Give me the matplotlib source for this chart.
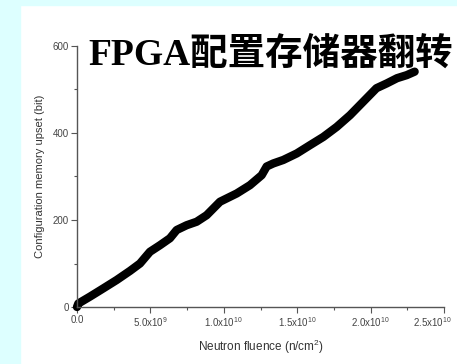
import matplotlib
matplotlib.use("Agg")
import matplotlib.pyplot as plt
from matplotlib.patches import Rectangle
from matplotlib.ticker import FixedLocator, MultipleLocator
from matplotlib.transforms import ScaledTranslation

# neutron fluence (n/cm^2) and cumulative configuration memory upsets (bit)
fluence = [0.0, 0.009e10, 0.089e10, 0.18e10, 0.27e10, 0.361e10, 0.429e10, 0.497e10,
           0.565e10, 0.633e10, 0.679e10, 0.747e10, 0.815e10, 0.883e10, 0.974e10,
           1.088e10, 1.178e10, 1.258e10, 1.292e10, 1.337e10, 1.405e10, 1.497e10,
           1.587e10, 1.678e10, 1.769e10, 1.86e10, 1.95e10, 2.04e10, 2.11e10,
           2.18e10, 2.246e10, 2.30e10]
upsets = [0, 8, 24, 43, 62, 83, 100, 127, 142, 158, 177, 188, 196, 211, 242,
          261, 280, 303, 323, 330, 338, 353, 372, 391, 414, 441, 472, 503, 514,
          526, 533, 541]

x_ticks = [0, 0.5e10, 1.0e10, 1.5e10, 2.0e10, 2.5e10]
x_labels = ['0.0', r'5.0x10$^{9}$', r'1.0x10$^{10}$', r'1.5x10$^{10}$',
            r'2.0x10$^{10}$', r'2.5x10$^{10}$']
y_ticks = [0, 200, 400, 600]

title = 'FPGA配置存储器翻转'

plt.rcParams['font.family'] = ['Liberation Sans', 'DejaVu Sans']
plt.rcParams['mathtext.fontset'] = 'custom'
plt.rcParams['mathtext.rm'] = 'Liberation Sans'
plt.rcParams['mathtext.it'] = 'Liberation Sans'

fig = plt.figure(figsize=(4.57, 3.64), dpi=100, facecolor='white')

# pale cyan frame on the left and top
cyan = '#ddffff'
fig.patches.append(Rectangle((0, 0), 20 / 457, 1, transform=fig.transFigure,
                             color=cyan, zorder=0))
fig.patches.append(Rectangle((0, 1 - 5 / 364), 1, 5 / 364, transform=fig.transFigure,
                             color=cyan, zorder=0))

ax = fig.add_axes([77 / 457, 1 - 307 / 364, 367 / 457, 261 / 364])
ax.set_facecolor('none')
ax.plot(fluence, upsets, color='black', lw=6, solid_capstyle='round',
        solid_joinstyle='round', clip_on=False)

ax.set_xlim(0, 2.5e10)
ax.set_ylim(0, 600)
ax.xaxis.set_major_locator(FixedLocator(x_ticks))
ax.set_xticklabels(x_labels)
ax.xaxis.set_minor_locator(MultipleLocator(0.25e10))
ax.yaxis.set_major_locator(FixedLocator(y_ticks))
ax.yaxis.set_minor_locator(MultipleLocator(100))

axis_grey = '#555555'
for side in ['top', 'right']:
    ax.spines[side].set_visible(False)
for side in ['left', 'bottom']:
    ax.spines[side].set_color(axis_grey)
    ax.spines[side].set_linewidth(1.0)

ax.tick_params(which='major', direction='out', length=4, width=0.8,
               color=axis_grey, labelcolor='#444444', labelsize=7, pad=2)
ax.tick_params(which='minor', direction='out', length=2.5, width=0.8, color=axis_grey)

# keep the last x label inside the figure
last = ax.get_xticklabels()[-1]
last.set_transform(last.get_transform() + ScaledTranslation(-12 / 100, 0, fig.dpi_scale_trans))

ax.set_xlabel('Neutron fluence (n/cm$^2$)', fontsize=8.5, color='#333333', labelpad=6)
ax.set_ylabel('Configuration memory upset (bit)', fontsize=8, color='#333333', labelpad=5)

fig.text(88 / 457, 1 - 65 / 364, title, fontsize=27, fontweight='heavy',
         family=['Liberation Serif', 'Noto Sans CJK SC'], color='black',
         va='baseline', ha='left')

fig.savefig('out.png', dpi=100, facecolor=fig.get_facecolor())
